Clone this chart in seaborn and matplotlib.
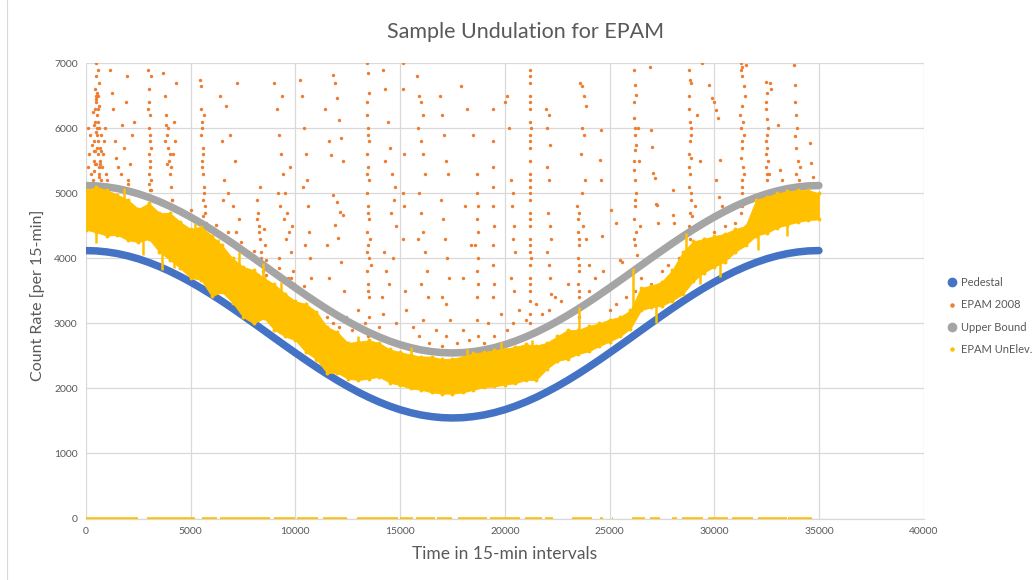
import numpy as np
import pandas as pd
import matplotlib
matplotlib.use("Agg")
import matplotlib.pyplot as plt
from matplotlib.lines import Line2D
import seaborn as sns

# ---------------- data ----------------
# Smooth curves, sampled every 500 intervals (0 .. 35000)
curve_x = list(range(0, 35001, 500))
pedestal = [4120, 4115, 4099, 4074, 4038, 3993, 3938, 3874, 3802, 3722,
            3635, 3542, 3443, 3339, 3231, 3119, 3006, 2891, 2775, 2660,
            2547, 2435, 2327, 2223, 2124, 2031, 1944, 1864, 1792, 1728,
            1673, 1628, 1592, 1567, 1551, 1546, 1551, 1567, 1592, 1628,
            1673, 1728, 1792, 1864, 1944, 2031, 2124, 2223, 2327, 2435,
            2547, 2660, 2775, 2891, 3006, 3119, 3231, 3339, 3443, 3542,
            3635, 3722, 3802, 3874, 3938, 3993, 4038, 4074, 4099, 4115, 4120]
upper_bound = [5120, 5115, 5099, 5074, 5038, 4993, 4938, 4874, 4802, 4722,
               4635, 4542, 4443, 4339, 4231, 4119, 4006, 3891, 3775, 3660,
               3547, 3435, 3327, 3223, 3124, 3031, 2944, 2864, 2792, 2728,
               2673, 2628, 2592, 2567, 2551, 2546, 2551, 2567, 2592, 2628,
               2673, 2728, 2792, 2864, 2944, 3031, 3124, 3223, 3327, 3435,
               3547, 3660, 3775, 3891, 4006, 4119, 4231, 4339, 4443, 4542,
               4635, 4722, 4802, 4874, 4938, 4993, 5038, 5074, 5099, 5115, 5120]

# EPAM UnElev. band: local upper / lower envelope every 500 intervals
unelev_x = list(range(0, 35001, 500))
unelev_hi = [5050, 5100, 5050, 4980, 4900, 4760, 4850, 4700, 4700, 4560,
             4450, 4490, 4350, 4200, 4000, 3870, 3820, 3700, 3600, 3460,
             3340, 3300, 3180, 2950, 2870, 2700, 2720, 2740, 2700, 2600,
             2560, 2520, 2490, 2490, 2450, 2460, 2490, 2540, 2560, 2590,
             2610, 2640, 2680, 2660, 2700, 2800, 2900, 2900, 2960, 3000,
             3060, 3100, 3200, 3550, 3580, 3640, 3820, 4100, 4260, 4300,
             4340, 4380, 4450, 4500, 4900, 4950, 5000, 5030, 5050, 5050, 5000]
unelev_lo = [4440, 4400, 4350, 4360, 4280, 4250, 4300, 4100, 3980, 3850,
             3700, 3670, 3420, 3480, 3320, 3100, 3000, 3080, 2900, 2800,
             2740, 2560, 2450, 2240, 2240, 2150, 2130, 2150, 2180, 2090,
             2050, 2000, 1980, 1940, 1920, 1920, 1940, 1980, 2020, 2030,
             2060, 2080, 2130, 2130, 2300, 2420, 2460, 2530, 2570, 2650,
             2720, 2800, 2920, 3200, 3250, 3270, 3350, 3450, 3650, 3780,
             3870, 3950, 4100, 4200, 4350, 4390, 4470, 4520, 4560, 4590, 4600]

# narrow spikes of EPAM UnElev. (x, from, to)
spike_x = [2700, 3650, 8450, 13000, 21300, 23550, 26120, 28650, 30280, 32100,
           500, 1800, 4200, 5200, 6300, 7300, 9300, 11000, 15500, 18200,
           19800, 27200, 29300, 33500]
spike_from = [4500, 4300, 3500, 2400, 2400, 2800, 3050, 3700, 4100, 4500,
              4600, 4600, 4300, 4000, 3800, 3500, 3100, 2700, 2200, 2200,
              2300, 3300, 3900, 4700]
spike_to = [4050, 3820, 3930, 2800, 2750, 3260, 3850, 4390, 3720, 4130,
            4230, 5080, 3850, 4550, 4300, 4100, 3640, 2400, 2640, 2600,
            2720, 3000, 3600, 4350]

# EPAM UnElev. stretches recorded as 0 (start, end)
zero_start = [0, 2900, 5520, 6400, 8980, 10060, 11330, 12920, 15000, 15760,
              16780, 17780, 19290, 20960, 21920, 23190, 24550, 25100, 25580,
              26060, 26930, 27970, 28450, 29720, 30830, 32110, 33540]
zero_end = [2500, 5200, 6240, 8790, 9980, 11090, 12450, 14920, 15630, 16670,
            17460, 19130, 20730, 21760, 22300, 24150, 24690, 25150, 25620,
            26700, 27410, 28210, 29480, 30670, 31870, 33460, 34650]

# EPAM 2008 points visible above the upper bound
epam2008_pts = [
    (100, 5400), (150, 5600), (200, 5900), (80, 6000), (250, 5300),
    (350, 5200), (380, 5500), (400, 5800), (420, 6100), (450, 6300), (470, 6500),
    (500, 6400), (520, 6200), (540, 6000), (560, 5800), (580, 5600), (600, 5400),
    (620, 5300), (650, 5700), (680, 5500), (700, 5900), (420, 6600), (460, 6800),
    (500, 7000), (550, 6900), (600, 6700), (380, 5350), (440, 5650), (480, 5950),
    (530, 5700), (570, 6100), (610, 6350), (460, 6450), (510, 6550), (640, 5250),
    (700, 5200), (750, 5400), (800, 5600), (850, 5800), (900, 6000), (950, 5300),
    (1150, 6900), (1250, 6550), (1300, 6300), (1400, 5800), (1450, 5550),
    (1550, 5400), (1650, 5300), (1700, 6050), (1800, 5700), (1900, 6400),
    (1950, 6800), (2000, 5200), (2100, 5450), (2200, 5900), (2300, 6100),
    (2950, 6900), (3000, 6600), (3020, 6400), (3050, 6200), (3000, 6000),
    (3080, 5800), (3020, 5600), (3050, 5400), (3100, 5200), (3070, 5050),
    (3120, 6800), (3000, 5300), (3060, 5500),
    (3700, 6850), (3750, 6500), (3800, 6200), (3850, 5900), (3900, 5700),
    (3950, 5500), (4000, 5300), (4050, 5100), (4100, 4900), (4200, 6100),
    (4250, 5800), (4300, 6700), (3820, 6050), (3880, 5450), (4150, 5600),
    (5450, 6750), (5500, 6300), (5550, 6100), (5500, 5900), (5600, 5700),
    (5550, 5500), (5600, 5300), (5650, 5100), (5600, 4900), (5700, 4700),
    (5750, 4550), (5480, 6650), (5650, 6200), (5520, 5400),
    (6400, 6500), (6500, 5800), (6600, 5200), (6700, 6350), (6800, 5000),
    (6900, 5900), (7000, 4800), (7100, 5500), (7200, 6700), (7300, 4600),
    (6550, 4900), (7150, 4400),
    (8150, 4900), (8200, 4700), (8250, 4500), (8300, 4300), (8350, 4100),
    (8400, 3900), (8450, 3800), (8500, 3650), (8550, 4200), (8600, 3550), (8300, 5100),
    (9000, 6700), (9100, 6300), (9200, 5900), (9300, 5600), (9400, 5300),
    (9500, 5000), (9600, 4700), (9700, 4400), (9800, 4100), (9900, 3800),
    (9200, 4000), (9450, 4600), (9650, 3700), (9350, 6500), (9750, 5400),
    (10200, 6750), (10300, 6500), (10400, 6000), (10500, 5600), (10550, 5200),
    (10600, 4800), (10650, 4400), (10700, 4000), (10750, 3700), (10800, 3400),
    (10450, 4200), (10350, 5100),
    (11400, 6300), (11600, 5800), (11800, 6820), (11900, 6690), (12000, 6460),
    (12100, 6130), (12200, 5850), (11700, 5590), (12250, 5490), (11800, 4980),
    (12000, 4870), (12150, 4720), (12250, 4670), (11900, 4510), (12050, 4310),
    (12200, 3950), (11500, 4200), (11600, 3700), (12300, 3500),
    (13400, 7000), (13450, 6850), (13500, 6550), (13400, 6200), (13450, 6000),
    (13500, 5800), (13400, 5600), (13450, 5400), (13500, 5200), (13400, 5000),
    (13450, 4800), (13500, 4600), (13400, 4400), (13450, 4200), (13500, 4000),
    (13400, 3800), (13450, 3600), (13500, 3400), (13550, 4300), (13600, 3900),
    (14200, 6900), (14300, 6600), (14400, 6100), (14500, 5700), (14600, 5300),
    (14700, 4900), (14800, 4500), (14250, 4100), (14350, 3800), (14450, 3600),
    (14550, 4700), (14650, 4000), (14750, 5100), (14300, 5500), (14150, 3400),
    (15150, 7000), (15150, 6600), (15200, 5600), (15150, 5000), (15200, 4800),
    (15150, 4300), (15250, 3500),
    (15800, 6800), (15900, 6500), (16000, 6400), (16100, 6200), (15850, 6000),
    (16000, 5800), (16100, 5600), (16200, 5300), (15900, 5000), (16000, 4700),
    (16100, 4400), (16200, 4100), (16300, 3800), (16000, 3600), (15850, 4300),
    (16350, 3400),
    (16900, 6500), (17000, 6200), (17100, 5900), (17200, 5500), (17300, 5300),
    (16950, 4900), (17050, 4600), (17150, 4300), (17250, 4000), (17350, 3700),
    (17000, 3400), (17200, 3300),
    (17900, 6650), (18200, 6300), (18500, 5900), (18650, 5300), (18650, 5000),
    (18700, 4800), (18650, 4600), (18700, 4400), (18600, 4200), (18700, 4000),
    (18650, 3800), (18700, 3600), (18650, 3400), (18100, 4800), (18400, 4200),
    (18000, 3700),
    (19450, 6300), (19450, 5800), (19450, 5400), (19450, 5100), (19450, 4800),
    (19500, 4500), (19450, 4200), (19450, 3900), (19500, 3600), (19450, 3400),
    (20000, 6400), (20200, 6000), (20100, 6500), (20300, 5200), (20400, 5000),
    (20350, 4800), (20450, 4500), (20400, 4300), (20500, 4100), (20300, 3700),
    (20450, 3500),
    (21200, 6900), (21200, 6700), (21220, 6500), (21200, 6300), (21200, 6100),
    (21220, 5900), (21200, 5700), (21200, 5500), (21220, 5300), (21200, 5100),
    (21200, 4900), (21220, 4700), (21200, 4500), (21200, 4300), (21220, 4100),
    (21200, 3900), (21200, 3700), (21220, 3500), (21200, 3350), (21250, 6000),
    (21180, 5000), (21240, 4000),
    (21950, 6300), (22100, 6200), (22000, 6000), (22150, 5750), (22000, 5400),
    (22100, 5200), (22050, 4700), (22150, 4500), (22200, 4300), (22000, 4100),
    (22100, 3900), (22150, 3700), (22200, 3450),
    (23600, 6700), (23700, 6650), (23800, 6500), (23900, 6350), (23700, 6000),
    (23800, 5900), (23650, 5600), (23850, 5200), (23700, 5000), (23450, 4800),
    (23500, 4600), (23500, 4400), (23550, 4200), (23500, 4000), (23550, 3800),
    (23500, 3600), (23550, 3400), (23900, 4300), (24000, 3900), (23750, 4500),
    (24600, 5980), (24550, 5510), (24600, 5210), (24650, 4340), (24700, 3800),
    (25050, 4750), (25300, 4550), (25500, 3980), (25600, 3950),
    (26150, 6900), (26200, 6670), (26250, 6520), (26150, 6160), (26200, 5900),
    (26250, 5750), (26200, 5670), (26150, 5360), (26200, 5200), (26250, 5000),
    (26200, 4800), (26150, 4600), (26250, 4400), (26200, 4200), (26300, 4050),
    (26350, 6000), (26400, 5500), (26450, 4500),
    (26950, 6950), (27000, 5980), (27050, 5720), (27100, 5310), (27150, 5230),
    (27200, 4840), (27250, 4820), (27300, 4540),
    (28050, 5050), (28050, 4670), (28100, 4540),
    (28800, 6900), (28850, 6750), (28900, 6700), (28800, 6300), (28850, 6100),
    (28900, 6000), (28850, 5800), (28800, 5600), (28900, 5550), (28850, 5300),
    (28800, 5100), (28900, 4900), (28850, 4700), (28950, 4650), (29100, 4800),
    (29300, 5500), (29200, 6200), (29400, 7000),
    (29750, 6670), (29900, 6460), (30000, 6410), (30100, 6280), (30200, 6160),
    (30300, 5520), (30100, 5200), (30250, 4950), (30350, 4800),
    (31300, 7000), (31350, 6950), (31300, 6900), (31400, 6650), (31350, 6350),
    (31250, 6200), (31300, 6000), (31400, 5900), (31350, 5700), (31300, 5550),
    (31400, 5300), (31350, 5100), (31350, 5000), (31450, 6500), (31500, 6980),
    (32450, 6720), (32500, 6550), (32450, 6300), (32500, 6150), (32550, 6000),
    (32450, 5800), (32500, 5700), (32550, 5500), (32450, 5400), (32600, 5300),
    (32500, 5200), (32650, 6700), (32700, 6600),
    (33050, 6050), (33150, 5360), (33250, 5200),
    (33800, 6980), (33850, 6670), (33900, 6200), (33950, 6000), (33850, 5880),
    (34000, 5500), (33900, 5300), (34050, 5200), (34100, 5400),
    (34570, 5770), (34600, 5460),
    # dots just above the upper bound
    (1000, 5200), (2000, 5150), (3100, 5050), (4100, 4900), (5000, 4750),
    (5600, 4650), (6200, 4520), (6800, 4400), (7400, 4250), (8000, 4120),
    (8600, 3980), (9200, 3850), (9800, 3700), (10400, 3570),
    (11200, 3300), (11500, 3100), (11800, 3000), (12100, 2950), (12400, 3100),
    (12700, 2900), (13000, 3200), (13300, 3000), (13450, 2800), (13500, 3100),
    (13700, 2850), (14000, 2950), (14200, 3150), (14500, 2750), (14800, 3000),
    (15000, 2700), (15300, 3200), (15600, 2950), (15900, 2800), (16100, 3050),
    (16400, 2700), (16700, 2900), (17000, 2650), (17200, 2800), (17400, 3050),
    (17700, 2700), (18000, 2900), (18300, 2750), (18650, 3050), (18700, 2800),
    (19000, 2700), (19200, 3000), (19500, 2800), (19800, 3150), (20100, 2900),
    (20400, 3000), (20700, 3200), (21000, 3050), (21200, 3000), (21220, 3150),
    (21500, 3300), (21800, 3150), (22100, 3200), (22400, 3400), (22700, 3350),
    (23000, 3600), (23500, 3250), (23520, 3100), (24000, 3500), (24300, 3700),
    (25000, 3200), (25300, 3300), (25800, 3400), (26200, 3500), (26500, 3700),
    (27000, 3600), (27500, 3800), (27800, 3900), (28300, 4000), (28800, 4100),
    (28850, 4300), (29500, 4300), (30000, 4400), (30500, 4500), (31000, 4550),
    (31300, 4700), (31350, 4800), (32000, 4700), (32500, 4900), (32550, 5000),
    (33000, 4900), (33500, 5100), (33900, 5050), (34300, 5150), (34700, 5250),
    # extra dots in the dense streaks
    (300, 5750), (330, 6250), (360, 6050), (390, 5650), (430, 5450), (490, 5450),
    (520, 5900), (560, 6300), (590, 6500), (630, 6000), (660, 5450), (720, 5650),
    (2980, 6300), (3040, 5900), (3090, 5700), (3010, 5150),
    (3780, 5800), (3930, 6000), (4020, 5600), (4080, 5400),
    (5530, 6000), (5580, 5600), (5620, 5000), (5680, 4800),
    (8180, 4600), (8280, 4400), (8380, 4000), (8480, 4450), (8580, 3750),
    (9150, 5000), (9250, 4800), (9550, 4300), (9850, 4500), (9950, 3600),
    (13420, 6400), (13480, 5900), (13420, 5300), (13480, 4700), (13420, 4100), (13480, 3500),
    (21210, 6800), (21210, 6400), (21210, 5800), (21210, 5200), (21210, 4600),
    (21210, 4200), (21210, 3600),
    (23520, 4700), (23520, 4300), (23560, 3900), (23520, 3500),
    (26180, 6400), (26220, 6000), (26180, 5500), (26220, 4900), (26180, 4300),
    (28820, 6500), (28870, 5900), (28820, 5400), (28870, 5000), (28820, 4500),
    (31320, 6800), (31380, 6100), (31320, 5800), (31380, 5400), (31320, 5200),
    (32480, 6400), (32520, 5900), (32480, 5600), (32520, 5300),
    (33870, 6400), (33920, 5700), (33970, 5100),
]
epam2008_x = [p[0] for p in epam2008_pts]
epam2008_y = [p[1] for p in epam2008_pts]

x_ticks = list(range(0, 40001, 5000))
y_ticks = list(range(0, 7001, 1000))

# ---------------- styling ----------------
C_PED = "#4472C4"
C_EPAM = "#ED7D31"
C_UP = "#A5A5A5"
C_UN = "#FFC000"
TXT = "#595959"

sns.set_theme(style="white")
plt.rcParams["font.family"] = ["Lato", "DejaVu Sans"]

W, H = 1034, 580
fig = plt.figure(figsize=(W / 100, H / 100), dpi=100)
ax = fig.add_axes([86 / W, 1 - 518.5 / H, (923.6 - 86) / W, (518.5 - 63.3) / H])

curve_df = pd.DataFrame({"x": curve_x, "pedestal": pedestal, "upper": upper_bound})
orange_df = pd.DataFrame({"x": epam2008_x, "y": epam2008_y})
un_df = pd.DataFrame({"x": unelev_x, "hi": unelev_hi, "lo": unelev_lo})

# Pedestal (bottom)
sns.lineplot(data=curve_df, x="x", y="pedestal", ax=ax, color=C_PED, lw=5.4,
             solid_capstyle="round", zorder=3, legend=False)
# EPAM 2008
sns.scatterplot(data=orange_df, x="x", y="y", ax=ax, color=C_EPAM, s=6,
                linewidth=0, zorder=4, legend=False)
# Upper bound
sns.lineplot(data=curve_df, x="x", y="upper", ax=ax, color=C_UP, lw=5.4,
             solid_capstyle="round", zorder=5, legend=False)
# EPAM UnElev. band
ax.fill_between(un_df["x"], un_df["lo"], un_df["hi"], color=C_UN, lw=0.6,
                edgecolor=C_UN, zorder=6)
sns.scatterplot(data=un_df, x="x", y="hi", ax=ax, color=C_UN, s=8, linewidth=0,
                zorder=6, legend=False)
sns.scatterplot(data=un_df, x="x", y="lo", ax=ax, color=C_UN, s=8, linewidth=0,
                zorder=6, legend=False)
ax.vlines(spike_x, spike_from, spike_to, color=C_UN, lw=1.8, zorder=6)
ax.hlines([0] * len(zero_start), zero_start, zero_end, color=C_UN, lw=2.6, zorder=6)

ax.set_xlim(0, 40000)
ax.set_ylim(0, 7000)
ax.set_xticks(x_ticks)
ax.set_yticks(y_ticks)
ax.set_xticklabels([str(v) for v in x_ticks])
ax.set_yticklabels([str(v) for v in y_ticks])
ax.tick_params(axis="both", length=0, labelsize=7.5, colors=TXT, pad=6)
ax.grid(True, color="#D9D9D9", lw=0.9, zorder=0)
ax.set_axisbelow(True)
for s in ["top", "right", "left"]:
    ax.spines[s].set_visible(False)
ax.spines["bottom"].set_color("#D9D9D9")
ax.spines["bottom"].set_linewidth(0.9)

ax.set_xlabel("Time in 15-min intervals", fontsize=12.5, color=TXT, labelpad=7)
ax.set_ylabel("Count Rate [per 15-min]", fontsize=11.5, color=TXT)
ax.yaxis.set_label_coords(-0.049, 0.49)
fig.text(526 / W, 1 - 32 / H, "Sample Undulation for EPAM", ha="center",
         va="center", fontsize=15.5, color=TXT)

handles = [
    Line2D([], [], ls="", marker="o", ms=6, color=C_PED),
    Line2D([], [], ls="", marker="o", ms=2.2, color=C_EPAM),
    Line2D([], [], ls="", marker="o", ms=6, color=C_UP),
    Line2D([], [], ls="", marker="o", ms=2.2, color=C_UN),
]
labels = ["Pedestal", "EPAM 2008", "Upper Bound", "EPAM UnElev."]
fig.legend(handles, labels, loc="center left", bbox_to_anchor=(943 / W, 1 - 316 / H),
           frameon=False, fontsize=8, labelcolor=TXT, handlelength=0.8,
           handletextpad=0.45, labelspacing=1.0, borderaxespad=0)

# chart-area border
fig.add_artist(Line2D([7 / W, 7 / W], [0, 1], transform=fig.transFigure,
                      color="#D9D9D9", lw=0.8))

fig.savefig("out.png", dpi=100)
